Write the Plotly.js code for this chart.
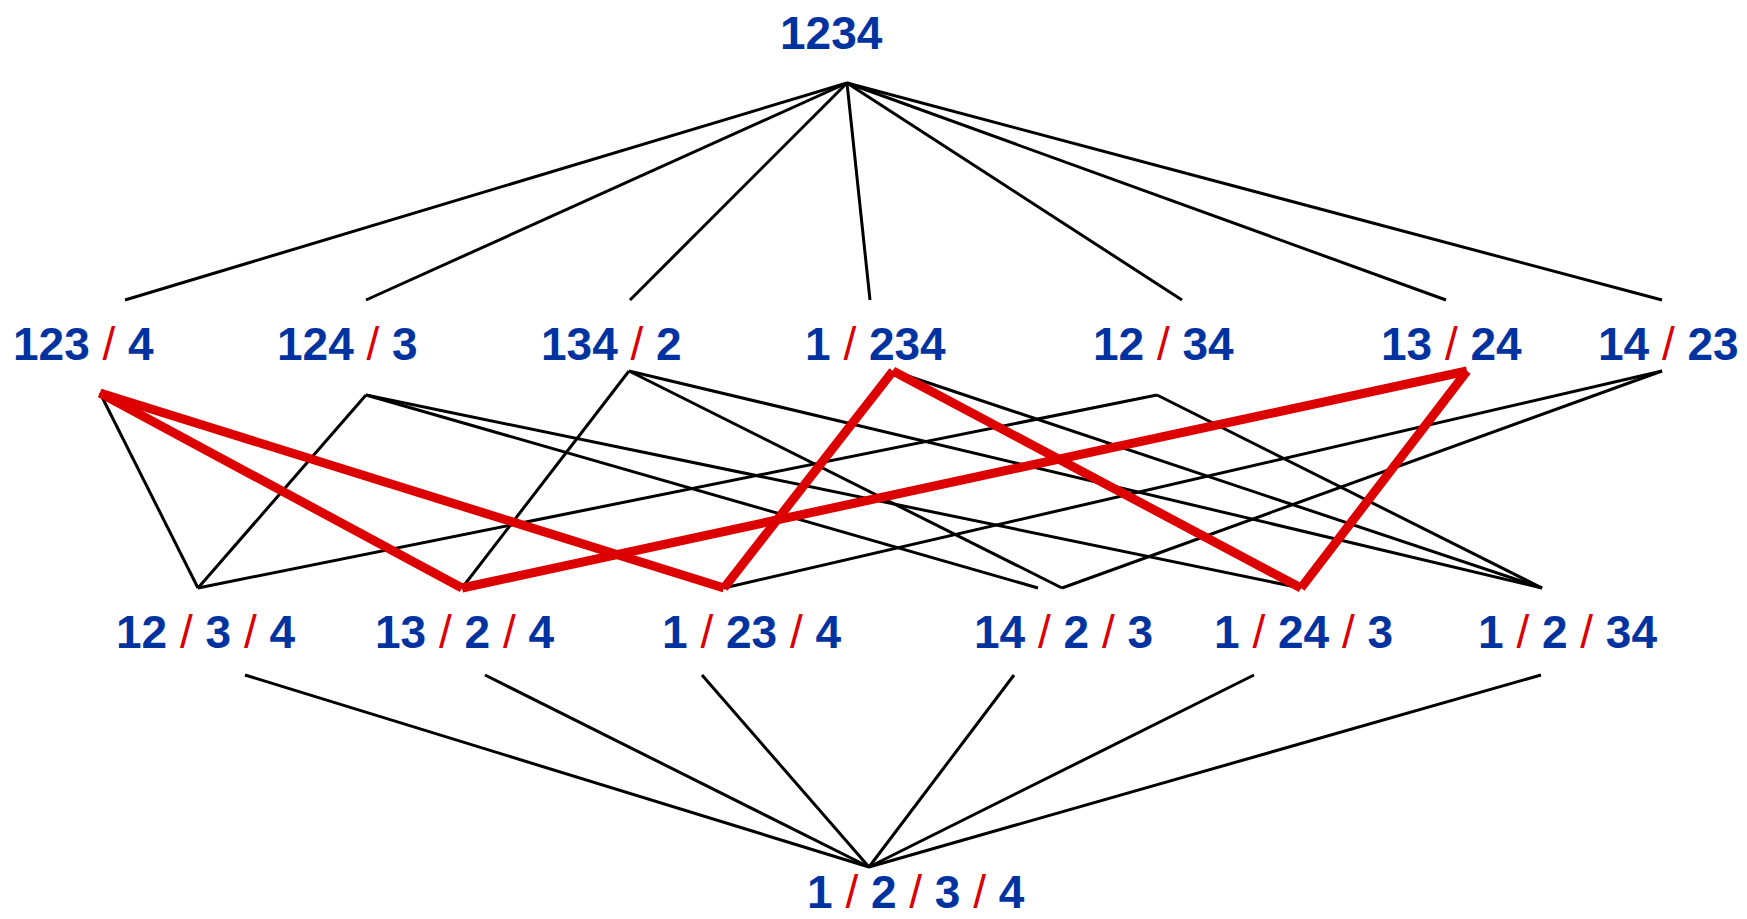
<!DOCTYPE html>
<html><head><meta charset="utf-8">
<script src="https://cdn.plot.ly/plotly-3.0.1.min.js"></script>
<style>html,body{margin:0;padding:0;background:#fff;overflow:hidden}</style>
</head><body><div id="chart" style="width:1747px;height:919px"></div>
<script>
// Hasse diagram of the partitions of {1,2,3,4}
const nodeNames = ["1234","123/4","124/3","134/2","1/234","12/34","13/24","14/23",
                   "12/3/4","13/2/4","1/23/4","14/2/3","1/24/3","1/2/34","1/2/3/4"];
// label centres
const labelX = [831, 83, 347, 611, 875, 1163, 1451, 1668, 205, 464, 751, 1063, 1303, 1567, 916];
const labelY = [33, 344, 344, 344, 344, 344, 344, 344, 632, 632, 632, 632, 632, 632, 892];
// where edges from parents arrive (above the label)
const upX = [null, 125, 366, 630, 870, 1182, 1446, 1662, 198, 462, 724, 1062, 1301, 1542, 869];
const upY = [null, 300, 300, 300, 300, 300, 300, 300, 588, 588, 588, 588, 588, 588, 867];
// where edges to children leave (below the label)
const downX = [847, 100, 366, 629, 893, 1157, 1467, 1662, 245, 485, 702, 1014, 1254, 1541, null];
const downY = [83, 393, 395, 371, 371, 395, 371, 371, 675, 675, 675, 675, 675, 675, null];
// cover relations: parent -> child
const edgeParent = ["1234","1234","1234","1234","1234","1234","1234",
  "123/4","124/3","12/34","134/2","14/23","124/3","134/2","14/23","124/3","12/34","134/2","1/234",
  "123/4","123/4","13/24","13/24","1/234","1/234",
  "12/3/4","13/2/4","1/23/4","14/2/3","1/24/3","1/2/34"];
const edgeChild = ["123/4","124/3","134/2","1/234","12/34","13/24","14/23",
  "12/3/4","12/3/4","12/3/4","13/2/4","1/23/4","14/2/3","14/2/3","14/2/3","1/24/3","1/2/34","1/2/34","1/2/34",
  "13/2/4","1/23/4","13/2/4","1/24/3","1/24/3","1/23/4",
  "1/2/3/4","1/2/3/4","1/2/3/4","1/2/3/4","1/2/3/4","1/2/3/4"];
const edgeHighlighted = [0,0,0,0,0,0,0, 0,0,0,0,0,0,0,0,0,0,0,0, 1,1,1,1,1,1, 0,0,0,0,0,0];
// one edge arrives slightly off the shared vertex in the drawing
const edgeChildXOverride = {"124/3|14/2/3": 1038};

const blue = "#0033a0", red = "#dd0000";
const idx = n => nodeNames.indexOf(n);

const black = {x: [], y: []}, hi = {x: [], y: []};
edgeParent.forEach((p, i) => {
  const a = idx(p), b = idx(edgeChild[i]);
  const key = p + "|" + edgeChild[i];
  const cx = (key in edgeChildXOverride) ? edgeChildXOverride[key] : upX[b];
  const t = edgeHighlighted[i] ? hi : black;
  t.x.push(downX[a], cx, null);
  t.y.push(downY[a], upY[b], null);
});

const traces = [
  {type: "scatter", mode: "lines", x: black.x, y: black.y, hoverinfo: "skip",
   line: {color: "#000000", width: 3}, connectgaps: false},
  {type: "scatter", mode: "lines", x: hi.x, y: hi.y, hoverinfo: "skip",
   line: {color: red, width: 9}, connectgaps: false}
];

const slash = ' <span style="color:' + red + ';font-weight:normal">/</span> ';
const annotations = nodeNames.map((n, i) => ({
  x: labelX[i], y: labelY[i], xref: "x", yref: "y",
  xanchor: "center", yanchor: "middle", showarrow: false,
  text: n.split("/").join(slash),
  font: {family: "Liberation Sans, Arial, sans-serif", size: 46, color: blue, weight: 700}
}));

const layout = {
  width: 1747, height: 919,
  margin: {l: 0, r: 0, t: 0, b: 0},
  paper_bgcolor: "#ffffff", plot_bgcolor: "#ffffff",
  showlegend: false,
  xaxis: {range: [0, 1747], visible: false, fixedrange: true},
  yaxis: {range: [919, 0], visible: false, fixedrange: true},
  annotations: annotations
};
Plotly.newPlot("chart", traces, layout, {displayModeBar: false, staticPlot: true});
</script>
</body></html>
